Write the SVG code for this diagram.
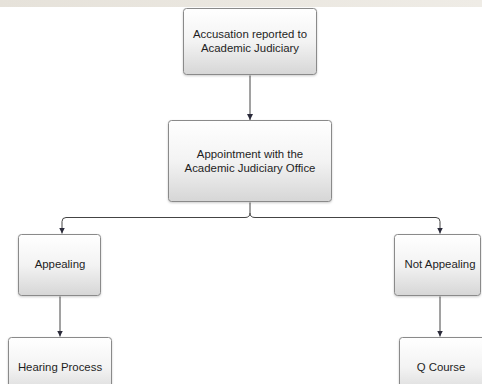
<svg xmlns="http://www.w3.org/2000/svg" width="482" height="384" viewBox="0 0 482 384">
<defs>
<linearGradient id="g" x1="0" y1="0" x2="0" y2="1">
<stop offset="0" stop-color="#ffffff"/>
<stop offset="0.5" stop-color="#f3f3f3"/>
<stop offset="1" stop-color="#d6d6d6"/>
</linearGradient>
<linearGradient id="band" x1="0" y1="0" x2="1" y2="0">
<stop offset="0" stop-color="#e6e2da"/>
<stop offset="1" stop-color="#efece6"/>
</linearGradient>
<marker id="ah" viewBox="0 0 10 10" refX="10" refY="5" markerWidth="6" markerHeight="6" orient="auto" markerUnits="userSpaceOnUse">
<path d="M0,0 L10,5 L0,10 z" fill="#2a2a3a"/>
</marker>
<filter id="sh" x="-10%" y="-10%" width="120%" height="130%">
<feDropShadow dx="0" dy="1" stdDeviation="1" flood-color="#000" flood-opacity="0.2"/>
</filter>
</defs>
<style>
.box{fill:url(#g);stroke:#8a8a8a;stroke-width:1;filter:url(#sh)}
.t{font-family:"Liberation Sans",Arial,sans-serif;font-size:11.4px;fill:#1e1e1e;text-anchor:middle}
.c{fill:none;stroke:#444;stroke-width:1;marker-end:url(#ah)}
.c2{fill:none;stroke:#444;stroke-width:1}
</style>
<rect x="0" y="0" width="482" height="384" fill="#ffffff"/>
<rect x="0" y="0" width="482" height="7" fill="url(#band)"/>
<g id="connectors">
<path class="c" d="M250,75.5 V120"/>
<path class="c2" d="M250,202.5 V213 Q250,217.5 245,217.5"/>
<path class="c2" d="M250,213 Q250,217.5 255,217.5"/>
<path class="c" d="M245,217.5 H66 Q62,217.5 62,221.5 V233.5"/>
<path class="c" d="M255,217.5 H436 Q440,217.5 440,221.5 V233.5"/>
<path class="c" d="M60,296.5 V336.5"/>
<path class="c" d="M440,296.5 V336.5"/>
</g>
<g id="n1">
<rect class="box" x="183.5" y="8.5" width="133" height="66" rx="3"/>
<text class="t" x="250" y="38">Accusation reported to</text>
<text class="t" x="250" y="52">Academic Judiciary</text>
</g>
<g id="n2">
<rect class="box" x="168.5" y="120.5" width="163" height="81" rx="3"/>
<text class="t" x="250" y="158">Appointment with the</text>
<text class="t" x="250" y="172">Academic Judiciary Office</text>
</g>
<g id="n3">
<rect class="box" x="18.5" y="234.5" width="82" height="61" rx="3"/>
<text class="t" x="60" y="268">Appealing</text>
</g>
<g id="n4">
<rect class="box" x="394.5" y="234.5" width="86" height="61" rx="3"/>
<text class="t" x="440" y="268">Not Appealing</text>
</g>
<g id="n5">
<rect class="box" x="8.5" y="337.5" width="103" height="60" rx="3"/>
<text class="t" x="60" y="371">Hearing Process</text>
</g>
<g id="n6">
<rect class="box" x="399.5" y="337.5" width="90" height="60" rx="3"/>
<text class="t" x="441" y="371">Q Course</text>
</g>
</svg>
